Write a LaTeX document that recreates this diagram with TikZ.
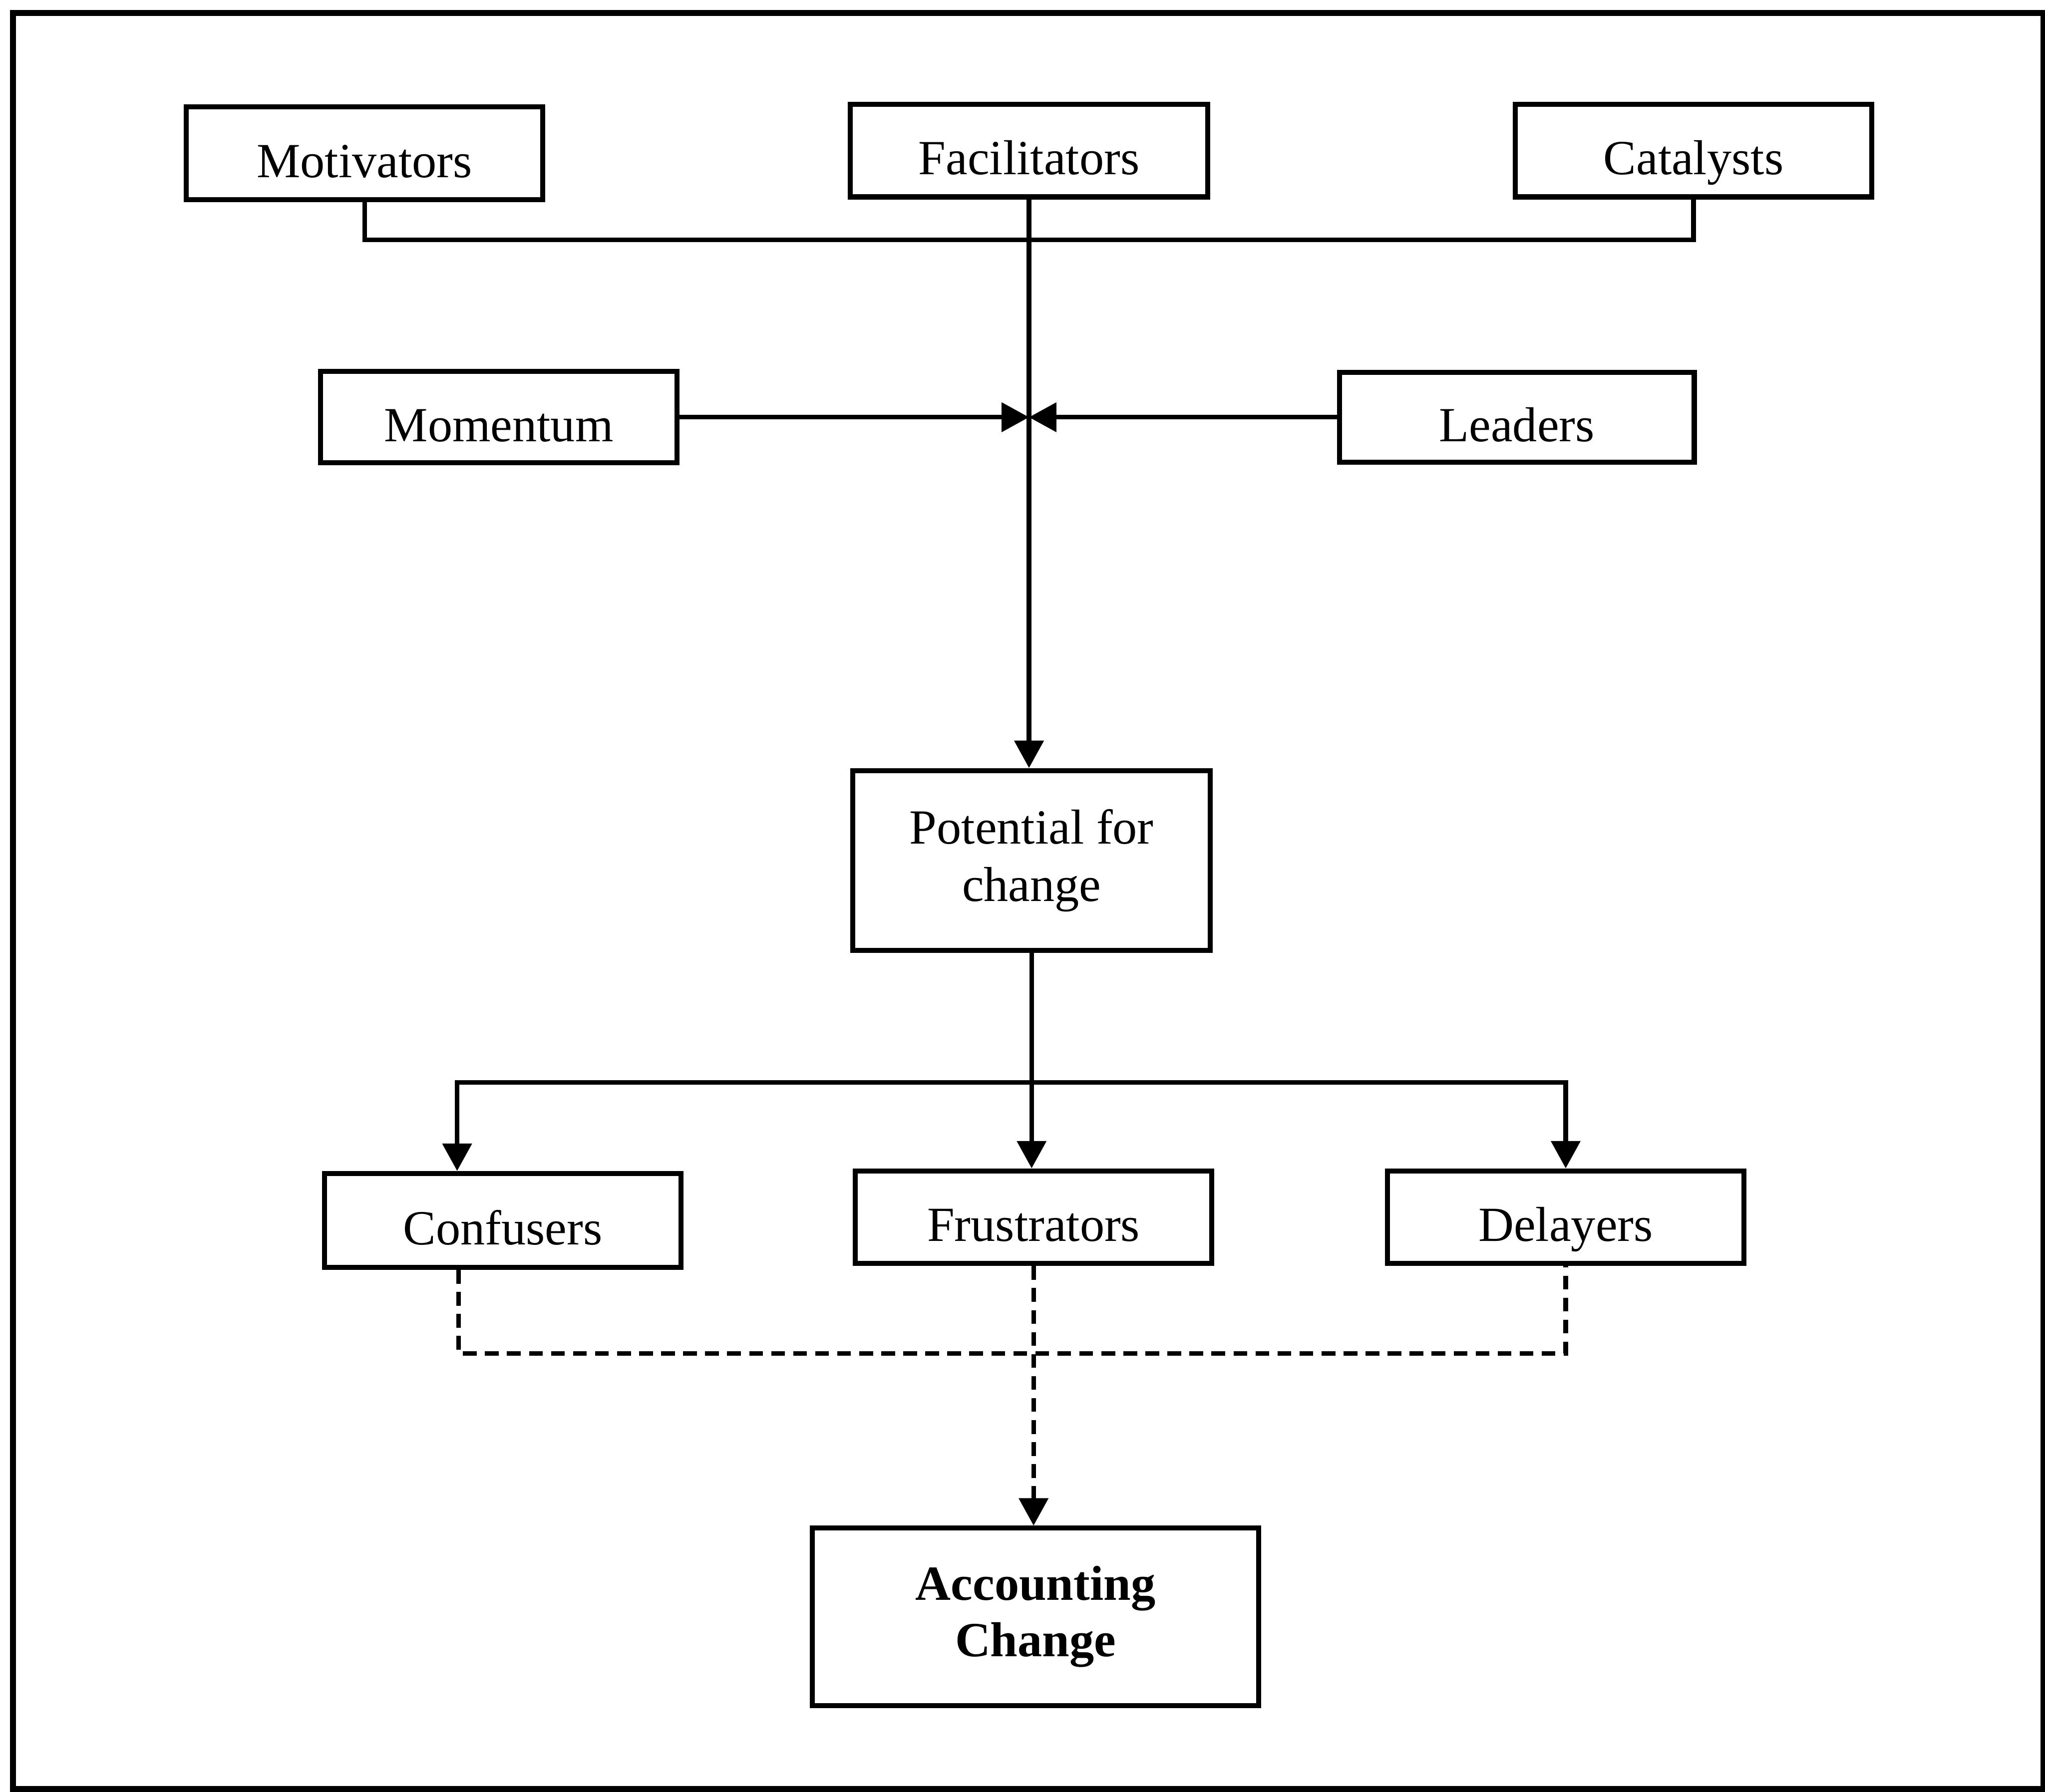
\documentclass[tikz,border=0pt]{standalone}
\usepackage{fontspec}
\setmainfont{Liberation Serif}
\usetikzlibrary{arrows.meta,calc}
\begin{document}
\begin{tikzpicture}[x=0.01cm,y=-0.01cm,
  box/.style={draw,line width=1.1pt,inner sep=2pt,align=center,
    font=\fontsize{10.7}{12.5}\selectfont},
  onebox/.style={box,text height=11pt,text depth=0.5pt},
  link/.style={line width=1pt},
  arr/.style={link,-{Triangle[length=0.21cm,width=0.22cm]}},
  dsh/.style={link,dash pattern=on 3pt off 1.8pt}]
\useasboundingbox (0,0) rectangle (1568,1374);
% outer frame
\draw[line width=1.3pt] (10,10) rectangle (1567,1372);

% upper row of forces
\node[onebox,minimum width=2.73cm,minimum height=0.71cm] (mot) at (279.5,117.5) {Motivators};
\node[onebox,minimum width=2.74cm,minimum height=0.71cm] (fac) at (789,115.5) {Facilitators};
\node[onebox,minimum width=2.73cm,minimum height=0.71cm] (cat) at (1298.5,115.5) {Catalysts};
\node[onebox,minimum width=2.73cm,minimum height=0.70cm] (mom) at (382.5,320) {Momentum};
\node[onebox,minimum width=2.72cm,minimum height=0.69cm] (lead) at (1163,320) {Leaders};

% centre
\node[box,minimum width=2.74cm,minimum height=1.38cm] (pot) at (791,660) {Potential for\\change};

% obstacles
\node[onebox,minimum width=2.73cm,minimum height=0.72cm] (conf) at (385.5,936) {Confusers};
\node[onebox,minimum width=2.73cm,minimum height=0.71cm] (frus) at (792.5,933.5) {Frustrators};
\node[onebox,minimum width=2.73cm,minimum height=0.71cm] (del) at (1200.5,933.5) {Delayers};

% outcome
\node[box,minimum width=3.42cm,minimum height=1.36cm,
  font=\fontsize{10.7}{12.3}\selectfont\bfseries] (acc) at (794,1240) {Accounting\\Change};

% joining points
\coordinate (topbus) at (789,184);
\coordinate (jn) at (789,320);
\coordinate (lowbus) at (791,830);
\coordinate (dashbus) at (793,1038);

% connectors
\draw[link] (mot.south) |- (topbus) -| (cat.south);
\draw[arr] (fac.south) -- (fac.south |- pot.north);
\draw[arr] (mom.east) -- (jn);
\draw[arr] (lead.west) -- (jn);
\draw[arr] (pot.south) -- (pot.south |- frus.north);
\draw[arr] (lowbus) -| ($(conf.north)+(-35,0)$);
\draw[arr] (lowbus) -| (del.north);
\draw[dsh] ($(conf.south)+(-34,0)$) |- (dashbus) -| (del.south);
\draw[dsh,-{Triangle[length=0.21cm,width=0.22cm]}] (frus.south) -- (frus.south |- acc.north);
\end{tikzpicture}
\end{document}
